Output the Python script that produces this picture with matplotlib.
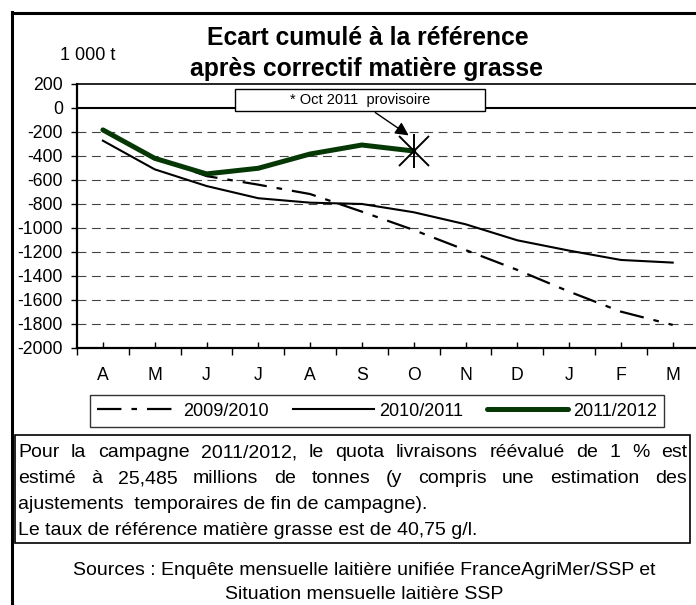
import numpy as np
import matplotlib
matplotlib.use('Agg')
import matplotlib.pyplot as plt
from matplotlib.lines import Line2D
from matplotlib.patches import Rectangle

plt.rcParams['font.family'] = ['Liberation Sans', 'DejaVu Sans']
plt.rcParams['axes.unicode_minus'] = False

# donnees (1 000 t)
mois = ['A', 'M', 'J', 'J', 'A', 'S', 'O', 'N', 'D', 'J', 'F', 'M']
c0910 = [-190, -415, -568, -640, -718, -865, -1018, -1185, -1351, -1532, -1699, -1810]
c1011 = [-273, -512, -651, -753, -790, -801, -870, -970, -1104, -1190, -1268, -1290]
c1112 = [-183, -420, -550, -503, -384, -309, -359]
campagnes = ['2009/2010', '2010/2011', '2011/2012']
yticks = list(range(-2000, 201, 200))

W, H = 696, 605
fig = plt.figure(figsize=(W / 100, H / 100), dpi=100)

def fx(x):
    return x / W

def fy(y):
    return 1 - y / H

# cadre exterieur
fig.add_artist(Line2D([fx(12), fx(12)], [fy(12), fy(H + 5)], color='black', lw=2.2))
fig.add_artist(Line2D([fx(12), fx(W + 5)], [fy(12.5), fy(12.5)], color='black', lw=2.2))

# zone de trace
x_left, x_right, y_top, y_bot = 77, 698.6, 84, 347.7
ax = fig.add_axes([fx(x_left), fy(y_bot), (x_right - x_left) / W, (y_bot - y_top) / H])
x = np.arange(len(mois))

ax.plot(x, c0910, color='black', lw=1.6, ls=(0, (11, 4.5, 2.5, 4.5)), label=campagnes[0])
ax.plot(x, c1011, color='black', lw=1.5, label=campagnes[1])
ax.plot(x[:len(c1112)], c1112, color='#063806', lw=3.6, label=campagnes[2], solid_capstyle='round')

# dernier point provisoire
xo = len(c1112) - 1
ax.plot(xo, c1112[-1], marker='x', ms=22, mew=1.4, color='black')
ax.plot(xo, c1112[-1], marker='|', ms=24, mew=1.4, color='black')

ax.set_xlim(-0.5, len(mois) - 0.5)
ax.set_ylim(-2000, 200)
ax.set_yticks(yticks)
ax.set_xticks(x)
ax.set_xticklabels(mois)
ax.set_xticks(np.arange(-0.5, len(mois), 1), minor=True)

for v in yticks[1:-2]:
    ax.axhline(v, color='#444444', lw=0.8, ls=(0, (8, 5)), zorder=0)
ax.axhline(0, color='black', lw=1.5, zorder=1)

for s in ['left', 'bottom']:
    ax.spines[s].set_linewidth(1.6)
ax.spines['top'].set_linewidth(1.2)
ax.spines['right'].set_visible(False)

ax.tick_params(axis='y', direction='out', length=4, width=1, pad=6, labelsize=12.7)
ax.tick_params(axis='x', which='major', direction='in', length=4, width=1, pad=14, labelsize=12.7)
ax.tick_params(axis='x', which='minor', direction='out', length=5, width=1)

# encadre provisoire
def dx(px):
    return (px - x_left) / 51.8 - 0.5

def dy(py):
    return (108 - py) / 0.11986

ax.add_patch(Rectangle((dx(235), dy(111)), dx(485) - dx(235), dy(89) - dy(111),
                       facecolor='white', edgecolor='black', lw=1, zorder=5))
ax.text((dx(235) + dx(485)) / 2, (dy(89) + dy(111)) / 2, '* Oct 2011  provisoire',
        ha='center', va='center', fontsize=10.5, zorder=6)
ax.annotate('', xy=(dx(411), dy(137)), xytext=(dx(373), dy(111)),
            arrowprops=dict(arrowstyle='-|>', color='black', lw=1, mutation_scale=20),
            zorder=6)

# titres
fig.text(fx(368), fy(38), 'Ecart cumulé à la référence', ha='center', va='center',
         fontsize=17.8, fontweight='bold')
fig.text(fx(367), fy(69), 'après correctif matière grasse', ha='center', va='center',
         fontsize=17.8, fontweight='bold')
fig.text(fx(88), fy(55), '1 000 t', ha='center', va='center', fontsize=13)

# legende
leg = fig.legend(loc='center', bbox_to_anchor=(fx(377), fy(411)), ncol=3, fontsize=13,
                 handlelength=4.5, handletextpad=0.3, columnspacing=1.3, borderpad=0.4,
                 frameon=True, fancybox=False)
leg.get_frame().set_edgecolor('black')
leg.get_frame().set_linewidth(1)

# texte explicatif
fig.add_artist(Rectangle((fx(15), fy(543)), fx(690) - fx(15), fy(435) - fy(543),
                         transform=fig.transFigure, facecolor='none', edgecolor='black', lw=1.2))
FS = 14
renderer = fig.canvas.get_renderer()

def ligne_justifiee(txt, y, x0, x1):
    mots = txt.split()
    arts = [fig.text(0, fy(y), m, fontsize=FS, va='baseline') for m in mots]
    larg = [a.get_window_extent(renderer).width for a in arts]
    gap = (x1 - x0 - sum(larg)) / (len(mots) - 1)
    xc = x0
    for a, l in zip(arts, larg):
        a.set_x(fx(xc))
        xc += l + gap

ligne_justifiee('Pour la campagne 2011/2012, le quota livraisons réévalué de 1 % est', 457, 18, 687)
ligne_justifiee('estimé à 25,485 millions de tonnes (y compris une estimation des', 483, 18, 687)
fig.text(fx(18), fy(509), 'ajustements  temporaires de fin de campagne).', fontsize=FS, va='baseline')
fig.text(fx(18), fy(535), 'Le taux de référence matière grasse est de 40,75 g/l.', fontsize=FS, va='baseline')

fig.text(fx(364), fy(575), 'Sources : Enquête mensuelle laitière unifiée FranceAgriMer/SSP et',
         ha='center', va='baseline', fontsize=14)
fig.text(fx(364), fy(599), 'Situation mensuelle laitière SSP', ha='center', va='baseline', fontsize=14)

fig.savefig('out.png', dpi=100)
